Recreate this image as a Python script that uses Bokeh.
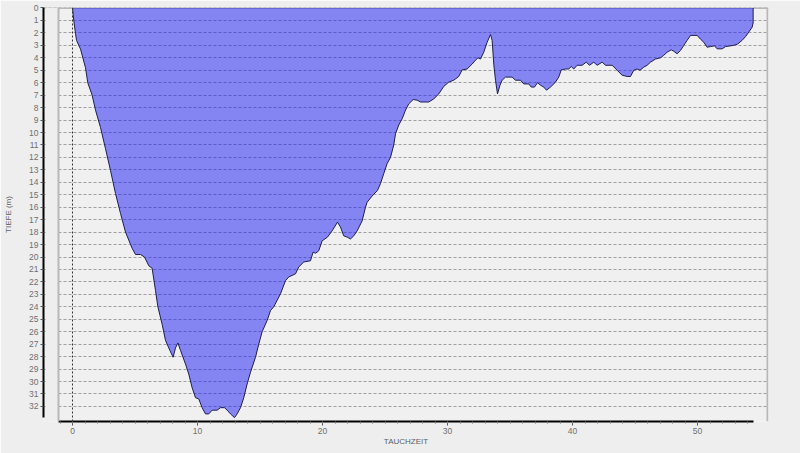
from bokeh.plotting import figure
from bokeh.models import Range1d, FixedTicker, Span, BoxAnnotation
from bokeh.embed import file_html
from bokeh.resources import INLINE

# ---- data ----
time_min = [
    0, 0.1, 0.24, 0.32, 0.64, 1.04, 1.22, 1.57, 1.84, 2.24,
    2.64, 3.04, 3.44, 3.84, 4.24, 4.77, 5.04, 5.44, 5.76, 6.1,
    6.37, 6.64, 6.83, 7.17, 7.44, 7.79, 8.05, 8.24, 8.43, 8.64,
    9.04, 9.3, 9.57, 9.84, 10.1, 10.37, 10.64, 10.9, 11.17, 11.57,
    11.84, 12.16, 12.37, 12.64, 12.96, 13.17, 13.44, 13.7, 13.97, 14.24,
    14.64, 14.9, 15.17, 15.57, 15.84, 16.1, 16.64, 17.04, 17.3, 17.84,
    18.1, 18.5, 19.04, 19.25, 19.44, 19.7, 19.97, 20.4, 20.77, 21.2,
    21.44, 21.7, 21.97, 22.24, 22.5, 22.77, 23.17, 23.44, 23.57, 23.97,
    24.4, 24.64, 24.9, 25.17, 25.44, 25.7, 25.84, 26.1, 26.37, 26.64,
    26.9, 27.25, 27.57, 27.84, 28.5, 28.9, 29.3, 29.7, 30.1, 30.5,
    30.9, 31.17, 31.57, 31.97, 32.24, 32.43, 32.64, 32.9, 33.17, 33.44,
    33.57, 33.7, 33.84, 34.0, 34.2, 34.37, 34.64, 35.17, 35.44, 35.84,
    36.1, 36.5, 36.7, 36.96, 37.2, 37.44, 37.7, 37.92, 38.24, 38.64,
    38.9, 39.1, 39.44, 39.7, 39.9, 40.1, 40.37, 40.77, 41.1, 41.36,
    41.7, 41.97, 42.37, 42.64, 43.17, 43.57, 43.97, 44.37, 44.64, 44.9,
    45.17, 45.4, 45.7, 45.97, 46.24, 46.64, 47.04, 47.3, 47.57, 47.9,
    48.1, 48.37, 48.64, 48.9, 49.17, 49.44, 49.97, 50.24, 50.5, 50.77,
    51.04, 51.36, 51.57, 51.97, 52.24, 52.9, 53.2, 53.57, 53.84, 54.1,
    54.37, 54.45, 54.45,
]
depth_m = [
    0, 1.0, 2.05, 2.6, 3.3, 4.8, 6.0, 7.0, 8.2, 9.6,
    11.3, 13.05, 14.9, 16.5, 18.0, 19.3, 19.8, 19.8, 20.0, 20.7,
    20.9, 22.7, 24.0, 25.4, 26.7, 27.5, 28.05, 27.3, 26.9, 27.5,
    28.6, 29.4, 30.5, 31.3, 31.4, 32.1, 32.6, 32.6, 32.3, 32.3,
    32.1, 32.1, 32.3, 32.6, 32.9, 32.6, 32.1, 31.3, 30.2, 29.25,
    28.05, 27.0, 26.0, 25.1, 24.3, 24.0, 22.95, 21.9, 21.6, 21.35,
    20.8, 20.4, 20.3, 19.6, 19.7, 19.5, 18.7, 18.4, 17.9, 17.2,
    17.6, 18.3, 18.4, 18.55, 18.3, 17.9, 17.1, 16.0, 15.6, 15.1,
    14.65, 14.1, 13.3, 12.5, 12.0, 11.0, 10.1, 9.4, 8.9, 8.2,
    7.7, 7.35, 7.4, 7.55, 7.55, 7.3, 6.9, 6.3, 5.95, 5.8,
    5.5, 4.97, 4.9, 4.5, 4.2, 4.0, 4.1, 3.55, 2.75, 2.13,
    2.6, 4.5, 5.8, 6.9, 6.2, 5.8, 5.55, 5.55, 5.8, 5.8,
    6.1, 6.1, 6.35, 6.35, 6.0, 6.2, 6.35, 6.6, 6.35, 5.95,
    5.55, 4.97, 4.9, 4.9, 4.7, 4.9, 4.6, 4.6, 4.35, 4.6,
    4.35, 4.6, 4.35, 4.6, 4.6, 5.0, 5.4, 5.5, 5.5, 5.0,
    4.9, 5.0, 4.75, 4.6, 4.35, 4.1, 4.0, 3.8, 3.55, 3.36,
    3.47, 3.68, 3.41, 3.0, 2.6, 2.2, 2.2, 2.5, 2.75, 3.15,
    3.1, 3.04, 3.28, 3.28, 3.1, 3.0, 2.9, 2.6, 2.3, 1.94,
    1.54, 1.2, 0,
]
surface = [0] * len(time_min)
depth_ticks = list(range(0, 33))
time_ticks = [0, 10, 20, 30, 40, 50]
time_minor_ticks = list(range(-1, 55))

x_label = "TAUCHZEIT"
y_label = "TIEFE (m)"

# ---- styling ----
PAGE_BG = "#EEEEEE"
PLOT_BG = "#F0F0F0"
FONT = "Liberation Sans"

x_start, x_end = -2.32, 55.68
plot_left, plot_right = -1.12, 55.6

p = figure(width=800, height=453, output_backend="svg", toolbar_location=None,
           x_range=Range1d(x_start, x_end), y_range=Range1d(33.21, -0.04),
           min_border_left=43, min_border_right=32, min_border_top=7,
           min_border_bottom=32)
p.outline_line_color = None
p.background_fill_color = PLOT_BG
p.border_fill_color = PAGE_BG

# grid
p.xgrid.visible = False
p.ygrid.ticker = FixedTicker(ticks=depth_ticks)
p.ygrid.grid_line_color = "#A0A0A0"
p.ygrid.grid_line_dash = "3 2"
p.ygrid.grid_line_width = 1

# top border (under the fill)
p.add_layout(Span(location=0, dimension="width", line_color="#B8B8B8",
                  line_width=2, level="underlay"))

# fill + outline
p.varea(x=time_min, y1=surface, y2=depth_m, fill_color="#0A0AF5", fill_alpha=0.47)
p.line(x=time_min, y=depth_m, line_color="#1E1E50", line_width=1)

# strip left of plot area (page background, no grid)
p.add_layout(BoxAnnotation(left=x_start + 0.16, right=plot_left,
                           fill_color=PAGE_BG, fill_alpha=1.0, line_color=None))
# frame borders
p.add_layout(Span(location=plot_left, dimension="height", line_color="#B8B8B8", line_width=2))
p.add_layout(Span(location=plot_right, dimension="height", line_color="#B8B8B8", line_width=2))
# dive start marker
p.add_layout(Span(location=0, dimension="height", line_color="#333333",
                  line_width=1, line_dash="2 2"))

# axes
xa = p.xaxis[0]
xa.ticker = FixedTicker(ticks=time_ticks, minor_ticks=time_minor_ticks)
xa.bounds = (plot_left, 54.45)
xa.axis_line_color = "black"
xa.axis_line_width = 2
xa.major_tick_out = 4
xa.major_tick_in = 0
xa.minor_tick_out = 2
xa.minor_tick_in = 0
xa.major_tick_line_color = "#555555"
xa.minor_tick_line_color = "#777777"
xa.major_label_text_font = FONT
xa.major_label_text_font_size = "8.5px"
xa.major_label_text_color = "#707070"
xa.major_label_standoff = 2
xa.axis_label = x_label
xa.axis_label_text_font = FONT
xa.axis_label_text_font_size = "8px"
xa.axis_label_text_font_style = "normal"
xa.axis_label_text_color = "#606060"
xa.axis_label_standoff = 0

ya = p.yaxis[0]
ya.ticker = FixedTicker(ticks=depth_ticks)
ya.bounds = (0, 32.9)
ya.axis_line_color = "black"
ya.axis_line_width = 2
ya.major_tick_out = 3
ya.major_tick_in = 0
ya.minor_tick_out = 0
ya.major_tick_line_color = "#555555"
ya.major_label_text_font = FONT
ya.major_label_text_font_size = "8.5px"
ya.major_label_text_color = "#707070"
ya.major_label_standoff = 2
ya.axis_label = y_label
ya.axis_label_text_font = FONT
ya.axis_label_text_font_size = "8px"
ya.axis_label_text_font_style = "normal"
ya.axis_label_text_color = "#606060"
ya.axis_label_standoff = 13

open("out.html", "w").write(file_html(p, INLINE))
